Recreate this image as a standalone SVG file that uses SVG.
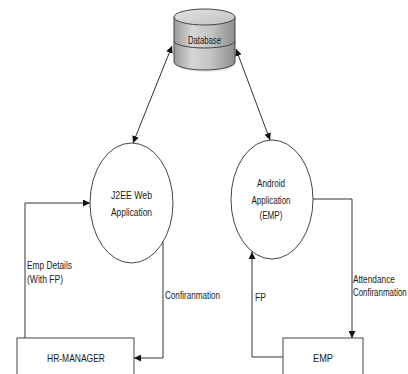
<svg xmlns="http://www.w3.org/2000/svg" width="408" height="374" viewBox="0 0 408 374">
  <defs>
    <linearGradient id="cylBody" x1="0" y1="0" x2="1" y2="0">
      <stop offset="0" stop-color="#9a9a9a"/>
      <stop offset="0.3" stop-color="#d6d6d6"/>
      <stop offset="0.6" stop-color="#c4c4c4"/>
      <stop offset="1" stop-color="#8e8e8e"/>
    </linearGradient>
    <linearGradient id="cylTop" x1="0" y1="0" x2="1" y2="1">
      <stop offset="0" stop-color="#e2e2e2"/>
      <stop offset="1" stop-color="#c2c2c2"/>
    </linearGradient>
    <marker id="arrow" viewBox="0 0 10 10" refX="10" refY="5" markerWidth="7" markerHeight="7" markerUnits="userSpaceOnUse" orient="auto-start-reverse">
      <path d="M0,0 L10,5 L0,10 Z" fill="#111"/>
    </marker>
  </defs>
  <style>
    .shape { fill: #fff; stroke: #444; stroke-width: 1; }
    .edge { fill: none; stroke: #333; stroke-width: 1; }
    .lbl { font-family: "Liberation Sans", Arial, sans-serif; font-size: 11.5px; fill: #1a1a1a; }
    .mid { text-anchor: middle; }
  </style>
  <rect width="408" height="374" fill="#fff"/>

  <!-- connectors -->
  <g id="connectors">
    <line class="edge" x1="172" y1="46" x2="133" y2="143" marker-start="url(#arrow)" marker-end="url(#arrow)"/>
    <line class="edge" x1="236" y1="49" x2="270" y2="140" marker-start="url(#arrow)" marker-end="url(#arrow)"/>
    <polyline class="edge" points="25,338 25,203 90,203" marker-end="url(#arrow)"/>
    <polyline class="edge" points="163,242 163,358 134,358" marker-end="url(#arrow)"/>
    <polyline class="edge" points="313,199 352,199 352,338" marker-end="url(#arrow)"/>
    <polyline class="edge" points="283,357 252,357 252,252" marker-end="url(#arrow)"/>
    <text class="lbl" x="27" y="269" textLength="45" lengthAdjust="spacingAndGlyphs">Emp Details</text>
    <text class="lbl" x="27" y="283" textLength="36" lengthAdjust="spacingAndGlyphs">(With FP)</text>
    <text class="lbl" x="165" y="299" textLength="55" lengthAdjust="spacingAndGlyphs">Confiranmation</text>
    <text class="lbl" x="255" y="301" textLength="11" lengthAdjust="spacingAndGlyphs">FP</text>
    <!-- right-edge labels: condensed with a horizontal scale so they stay inside the canvas -->
    <text class="lbl" transform="translate(353,283) scale(0.72,1)">Attendance</text>
    <text class="lbl" transform="translate(353,296) scale(0.69,1)">Confiranmation</text>
  </g>

  <!-- database cylinder -->
  <g id="database">
    <ellipse cx="206" cy="64" rx="30" ry="8" fill="#000" opacity="0.08"/>
    <path d="M174,17 L174,62 A30.5,8 0 0 0 235,62 L235,17 Z" fill="url(#cylBody)" stroke="#444"/>
    <path d="M174,41 A30.5,7 0 0 0 235,41" fill="none" stroke="#444"/>
    <ellipse cx="204.5" cy="17" rx="30.5" ry="8" fill="url(#cylTop)" stroke="#444"/>
    <text class="lbl mid" x="204.5" y="44" textLength="33" lengthAdjust="spacingAndGlyphs">Database</text>
  </g>

  <g id="j2ee">
    <ellipse class="shape" cx="131.5" cy="203" rx="41.5" ry="60"/>
    <text class="lbl mid" x="131.5" y="199" textLength="41" lengthAdjust="spacingAndGlyphs">J2EE Web</text>
    <text class="lbl mid" x="131.5" y="216" textLength="41" lengthAdjust="spacingAndGlyphs">Application</text>
  </g>

  <g id="android">
    <ellipse class="shape" cx="272" cy="199.5" rx="41" ry="59.5"/>
    <text class="lbl mid" x="271" y="187" textLength="28" lengthAdjust="spacingAndGlyphs">Android</text>
    <text class="lbl mid" x="271" y="204" textLength="39" lengthAdjust="spacingAndGlyphs">Application</text>
    <text class="lbl mid" x="271" y="219" textLength="23" lengthAdjust="spacingAndGlyphs">(EMP)</text>
  </g>

  <g id="hr-manager">
    <rect class="shape" x="17" y="338" width="117" height="60"/>
    <text class="lbl mid" x="76" y="362" textLength="58" lengthAdjust="spacingAndGlyphs">HR-MANAGER</text>
  </g>

  <g id="emp">
    <rect class="shape" x="283" y="338" width="80" height="60"/>
    <text class="lbl mid" x="323" y="362" textLength="20" lengthAdjust="spacingAndGlyphs">EMP</text>
  </g>
</svg>
